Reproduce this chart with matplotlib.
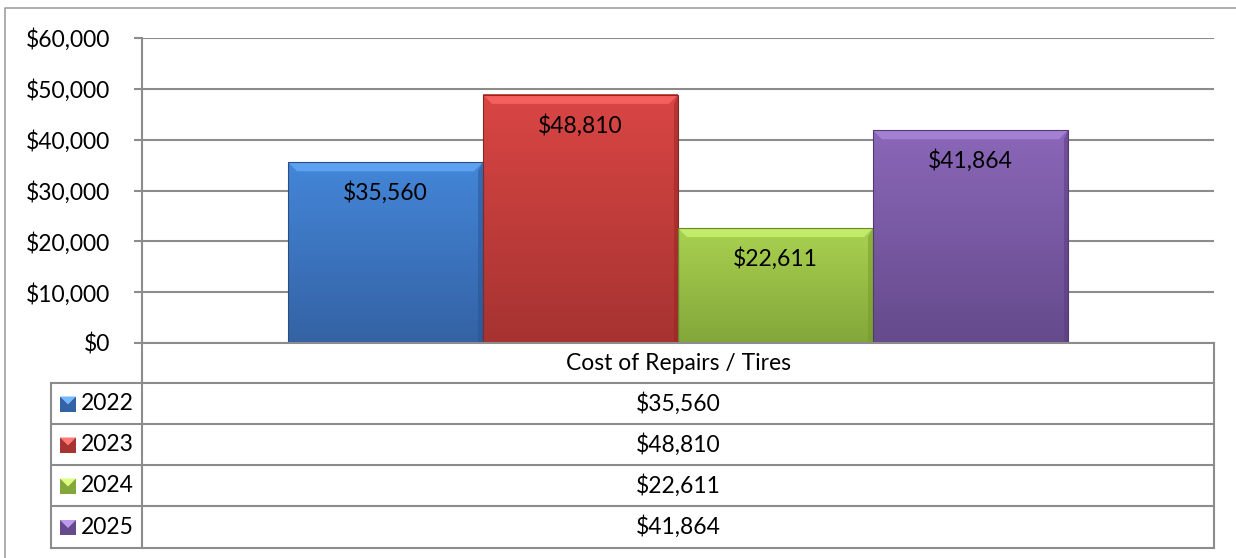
import numpy as np
import matplotlib
matplotlib.use("Agg")
import matplotlib.pyplot as plt
from matplotlib.colors import to_rgb
from matplotlib.patches import Rectangle, Polygon

category = "Cost of Repairs / Tires"
years = ["2022", "2023", "2024", "2025"]
values = [35560, 48810, 22611, 41864]
colors_top = ["#4486D8", "#D94644", "#A9D150", "#8A67B8"]
colors_bot = ["#3462A4", "#A63331", "#83A73A", "#654A8C"]
yticks = [0, 10000, 20000, 30000, 40000, 50000, 60000]

W, H = 1236, 558
plt.rcParams['font.family'] = ['Lato', 'DejaVu Sans']
FS = 16.5
fig = plt.figure(figsize=(W / 100, H / 100), dpi=100)

def fx(px):
    return px / W

def fy(py):
    return 1 - py / H

grid_c = "#8C8C8C"
L, R, T, B = 142, 1214, 38, 343
ax = fig.add_axes([fx(L), fy(B), fx(R) - fx(L), fy(T) - fy(B)])
ax.set_xlim(0, 1)
ax.set_ylim(0, 60000)
ax.set_yticks(yticks)
ax.set_yticklabels([f"${v:,.0f}" for v in yticks], fontsize=FS)
ax.tick_params(axis='y', length=6, width=1.5, color=grid_c, pad=17)
ax.set_xticks([])
for s in ["top", "right", "bottom"]:
    ax.spines[s].set_visible(False)
ax.spines["left"].set_color(grid_c)
ax.spines["left"].set_linewidth(1.5)
ax.yaxis.grid(True, color=grid_c, linewidth=1.5)
ax.set_axisbelow(True)

n = len(values)
bw = 195 / (R - L)
x0 = 0.5 - n * bw / 2
xs = [x0 + bw * (i + 0.5) for i in range(n)]
bars = ax.bar(xs, values, width=bw, color="none", edgecolor="none", zorder=2)

for b, ct, cb, v in zip(bars, colors_top, colors_bot, values):
    bx, by, bwid, bh = b.get_x(), b.get_y(), b.get_width(), b.get_height()
    t = to_rgb(ct); bo = to_rgb(cb)
    grad = np.linspace(0, 1, 100)[:, None]
    img = np.zeros((100, 2, 3))
    for k in range(3):
        img[:, :, k] = bo[k] + (t[k] - bo[k]) * grad
    ax.imshow(img, extent=[bx, bx + bwid, by, by + bh], origin="lower",
              aspect="auto", zorder=2, interpolation="bilinear")
    # bevel
    dx = 9 / (R - L)
    dy = 9 / (B - T) * 60000
    light = tuple(min(1, c + 0.10) for c in t)
    ax.add_patch(Polygon([[bx, by + bh], [bx + bwid, by + bh],
                          [bx + bwid - dx, by + bh - dy], [bx + dx, by + bh - dy]],
                         closed=True, facecolor=light, edgecolor="none", zorder=3))
    side = tuple(max(0, c - 0.06) for c in bo)
    ax.add_patch(Polygon([[bx + bwid, by + bh], [bx + bwid, by],
                          [bx + bwid - dx * 0.5, by], [bx + bwid - dx * 0.5, by + bh - dy]],
                         closed=True, facecolor=side, edgecolor="none", zorder=3, alpha=0.5))
    ax.add_patch(Rectangle((bx, by), bwid, bh, facecolor="none",
                           edgecolor=tuple(c * 0.8 for c in bo), linewidth=0.8, zorder=4))
    ax.annotate(f"${v:,.0f}", (bx + bwid / 2, by + bh), xytext=(0, -22),
                textcoords="offset points", ha="center", va="center",
                fontsize=FS, color="black", zorder=5)
ax.set_xlim(0, 1)
ax.set_ylim(0, 60000)

# overlay for table and frame
ov = fig.add_axes([0, 0, 1, 1], zorder=5)
ov.set_xlim(0, W)
ov.set_ylim(H, 0)
ov.axis("off")
ov.patch.set_alpha(0)

lw = 1.5
ov.plot([5, 5, W + 5], [H + 5, 8, 8], color="#A0A0A0", lw=1.2)

rows = [343, 383, 424, 465, 506, 548]
TL = 51
ov.plot([L, R], [B, B], color=grid_c, lw=lw)
for yy in rows[1:]:
    ov.plot([TL, R], [yy, yy], color=grid_c, lw=lw)
ov.plot([TL, TL], [rows[1], rows[-1]], color=grid_c, lw=lw)
ov.plot([L, L], [B, rows[-1]], color=grid_c, lw=lw)
ov.plot([R, R], [B, rows[-1]], color=grid_c, lw=lw)

ov.text((L + R) / 2, (rows[0] + rows[1]) / 2, category, ha="center", va="center", fontsize=FS)
for i, (yr, v, ct, cb) in enumerate(zip(years, values, colors_top, colors_bot)):
    yc = (rows[i + 1] + rows[i + 2]) / 2
    ov.add_patch(Rectangle((60, yc - 7), 16, 15, facecolor=cb, edgecolor="none"))
    ov.add_patch(Polygon([[60, yc - 7], [76, yc - 7], [68, yc + 1]], closed=True,
                         facecolor=tuple(min(1, c + 0.2) for c in to_rgb(ct)), edgecolor="none"))
    ov.text(81, yc, yr, ha="left", va="center", fontsize=FS)
    ov.text((L + R) / 2, yc, f"${v:,.0f}", ha="center", va="center", fontsize=FS)

fig.savefig("out.png", dpi=100)
